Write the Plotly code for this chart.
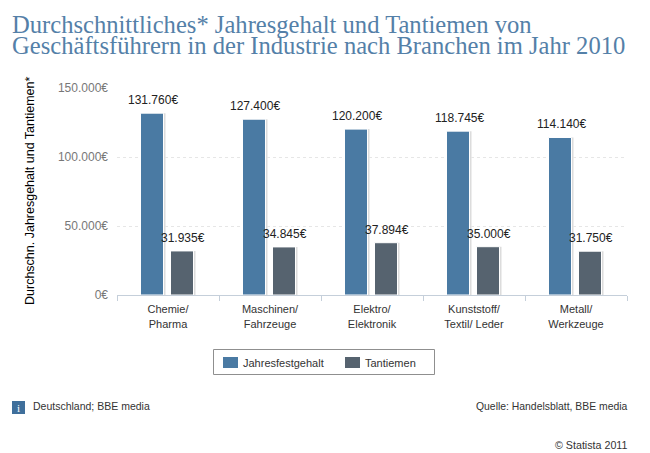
import plotly.graph_objects as go

categories = ["Chemie/<br>Pharma", "Maschinen/<br>Fahrzeuge", "Elektro/<br>Elektronik", "Kunststoff/<br>Textil/ Leder", "Metall/<br>Werkzeuge"]
gehalt = [131760, 127400, 120200, 118745, 114140]
tantiemen = [31935, 34845, 37894, 35000, 31750]
gehalt_labels = ["131.760€", "127.400€", "120.200€", "118.745€", "114.140€"]
tantiemen_labels = ["31.935€", "34.845€", "37.894€", "35.000€", "31.750€"]
y_ticks = [0, 50000, 100000, 150000]
y_tick_labels = ["0€", "50.000€", "100.000€", "150.000€"]
legend_names = ["Jahresfestgehalt", "Tantiemen"]

W, H = 650, 453
BLUE, SLATE = "#4a7aa3", "#56636f"
L, R, T, B = 117, 627, 88, 295
SH = 2
GROUP = (R - L) / 5
BAR_W = 23 / GROUP
OFFS = (-27.5 / GROUP, 2.5 / GROUP)
sans = "Liberation Sans"

fig = go.Figure()
# soft shadows behind the bars (shifted axes)
for vals, off in zip((gehalt, tantiemen), OFFS):
    fig.add_trace(go.Bar(x=categories, y=vals, xaxis="x", yaxis="y", marker_color="#dcdcdc",
                         width=BAR_W, offset=off, marker_line_width=0, showlegend=False, hoverinfo="skip"))
for vals, off, name, col in zip((gehalt, tantiemen), OFFS, legend_names, (BLUE, SLATE)):
    fig.add_trace(go.Bar(x=categories, y=vals, name=name, xaxis="x2", yaxis="y2", showlegend=False,
                         width=BAR_W, offset=off, marker_color=col,
                         marker_line_color="white", marker_line_width=1, cliponaxis=False))

fig.update_layout(
    width=W, height=H, margin=dict(l=0, r=0, t=0, b=0, autoexpand=False),
    paper_bgcolor="white", plot_bgcolor="rgba(0,0,0,0)", barmode="overlay",
    font=dict(family=sans, size=11, color="#333"), showlegend=False,
    xaxis=dict(domain=[(L + SH) / W, (R + SH) / W], anchor="y", visible=False, fixedrange=True),
    yaxis=dict(domain=[1 - B / H, 1 - T / H], anchor="x", range=[0, 150000], visible=False, fixedrange=True),
    xaxis2=dict(domain=[L / W, R / W], anchor="y2", tickson="boundaries", ticks="outside", ticklen=5,
                tickcolor="#c5cfda", linecolor="#c5cfda", showline=True, showgrid=False,
                ticklabelstandoff=4,
                tickfont=dict(family=sans, size=11, color="#333"), fixedrange=True),
    yaxis2=dict(domain=[1 - B / H, 1 - T / H], anchor="x2", range=[0, 150000], tickvals=y_ticks,
                ticktext=y_tick_labels, gridcolor="#e6e6e6", griddash="dot", zeroline=False, showline=False,
                ticks="", ticklabelstandoff=8,
                tickfont=dict(family=sans, size=12, color="#777"), fixedrange=True),
)

# value labels above the bars
for vals, labels, dx in ((gehalt, gehalt_labels, -15), (tantiemen, tantiemen_labels, 15)):
    for c, v, t in zip(categories, vals, labels):
        fig.add_annotation(x=c, y=v, xref="x2", yref="y2", text=t, showarrow=False, xshift=dx, yshift=13,
                           yanchor="middle", font=dict(family=sans, size=12, color="#222"))

def note(x, y, text, **kw):
    base = dict(x=x / W, y=1 - y / H, xref="paper", yref="paper", text=text, showarrow=False,
                xanchor="left", yanchor="middle")
    base.update(kw)
    fig.add_annotation(**base)

def box(x0, y0, x1, y1, **kw):
    fig.add_shape(type="rect", xref="paper", yref="paper", x0=x0 / W, x1=x1 / W, y0=1 - y1 / H, y1=1 - y0 / H, **kw)

title_font = dict(family="Liberation Serif", size=24.6, color="#5480a8")
note(10, 25, "Durchschnittliches* Jahresgehalt und Tantiemen von", font=title_font)
note(10, 46, "Geschäftsführern in der Industrie nach Branchen im Jahr 2010", font=title_font)
note(30, 191, "Durchschn. Jahresgehalt und Tantiemen*", textangle=-90, xanchor="center",
     font=dict(family=sans, size=12.5, color="#000"))
note(31, 406, "Deutschland; BBE media", font=dict(family=sans, size=10.5, color="#333"))
note(630, 406, "Quelle: Handelsblatt, BBE media", xanchor="right", font=dict(family=sans, size=10.4, color="#333"))
note(629, 445, "© Statista 2011", xanchor="right", font=dict(family=sans, size=10.7, color="#333"))
note(18.5, 407.5, "i", xanchor="center", font=dict(family="Liberation Serif", size=11, color="white"))
box(12, 401, 25, 414, fillcolor="#3f6f9b", line_width=0, layer="below")

# legend
box(213.5, 349.5, 434.5, 374.5, fillcolor="white", line=dict(color="#8f8f8f", width=1), layer="below")
box(223, 357, 238, 368, fillcolor=BLUE, line_width=0)
box(345, 357, 360, 368, fillcolor=SLATE, line_width=0)
note(241, 362.5, legend_names[0], font=dict(family=sans, size=11, color="#333"))
note(363, 362.5, legend_names[1], font=dict(family=sans, size=11, color="#333"))

fig.write_html("out.html", config={"displayModeBar": False},
               post_script="document.body.style.margin='0';document.documentElement.style.overflow='hidden';")
